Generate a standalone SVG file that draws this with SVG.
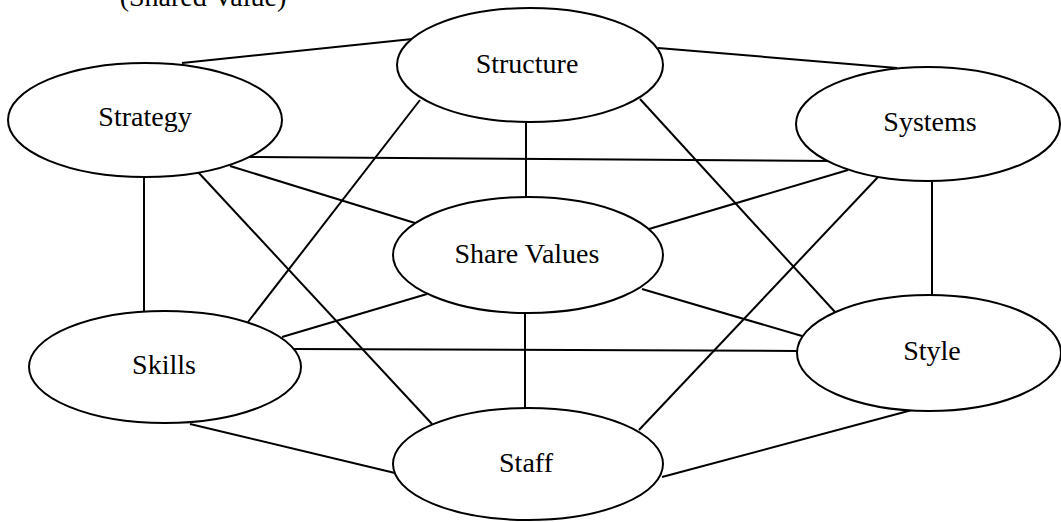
<svg xmlns="http://www.w3.org/2000/svg" width="1061" height="522" viewBox="0 0 1061 522">
<style>
.n{fill:#fff;stroke:#000;stroke-width:2}
.t{font-family:"Liberation Serif","Times New Roman",serif;font-size:28px;fill:#000;text-anchor:middle}
.e line{stroke:#000;stroke-width:2}
</style>
<rect width="1061" height="522" fill="#fff"/>
<text class="t" x="203" y="6" style="text-anchor:middle">(Shared Value)</text>
<g id="connectors" class="e">
<line x1="182" y1="63" x2="422" y2="38"/>
<line x1="658" y1="48" x2="897" y2="68"/>
<line x1="248" y1="157" x2="833" y2="161"/>
<line x1="230" y1="166" x2="415" y2="223"/>
<line x1="144" y1="177" x2="144" y2="311"/>
<line x1="198" y1="172" x2="432" y2="424"/>
<line x1="420" y1="100" x2="248" y2="322"/>
<line x1="526" y1="122" x2="526" y2="197"/>
<line x1="640" y1="99" x2="835" y2="312"/>
<line x1="848" y1="170" x2="649" y2="229"/>
<line x1="878" y1="177" x2="639" y2="430"/>
<line x1="932" y1="182" x2="932" y2="295"/>
<line x1="427" y1="294" x2="282" y2="337"/>
<line x1="642" y1="289" x2="802" y2="336"/>
<line x1="293" y1="349" x2="797" y2="351"/>
<line x1="525" y1="313" x2="525" y2="408"/>
<line x1="190" y1="424" x2="395" y2="473"/>
<line x1="912" y1="410" x2="662" y2="477"/>
</g>
<g id="structure"><ellipse class="n" cx="530" cy="65" rx="133" ry="57"/><text class="t" x="527" y="73">Structure</text></g>
<g id="strategy"><ellipse class="n" cx="145" cy="120" rx="137" ry="57"/><text class="t" x="145" y="126">Strategy</text></g>
<g id="systems"><ellipse class="n" cx="928" cy="124" rx="132" ry="57"/><text class="t" x="930" y="131">Systems</text></g>
<g id="sharevalues"><ellipse class="n" cx="528" cy="255" rx="135" ry="58"/><text class="t" x="527" y="263">Share Values</text></g>
<g id="skills"><ellipse class="n" cx="165" cy="367" rx="136" ry="56"/><text class="t" x="164" y="374">Skills</text></g>
<g id="style"><ellipse class="n" cx="929" cy="353" rx="132" ry="58"/><text class="t" x="932" y="360">Style</text></g>
<g id="staff"><ellipse class="n" cx="528" cy="464" rx="135" ry="56"/><text class="t" x="526" y="472">Staff</text></g>
</svg>
